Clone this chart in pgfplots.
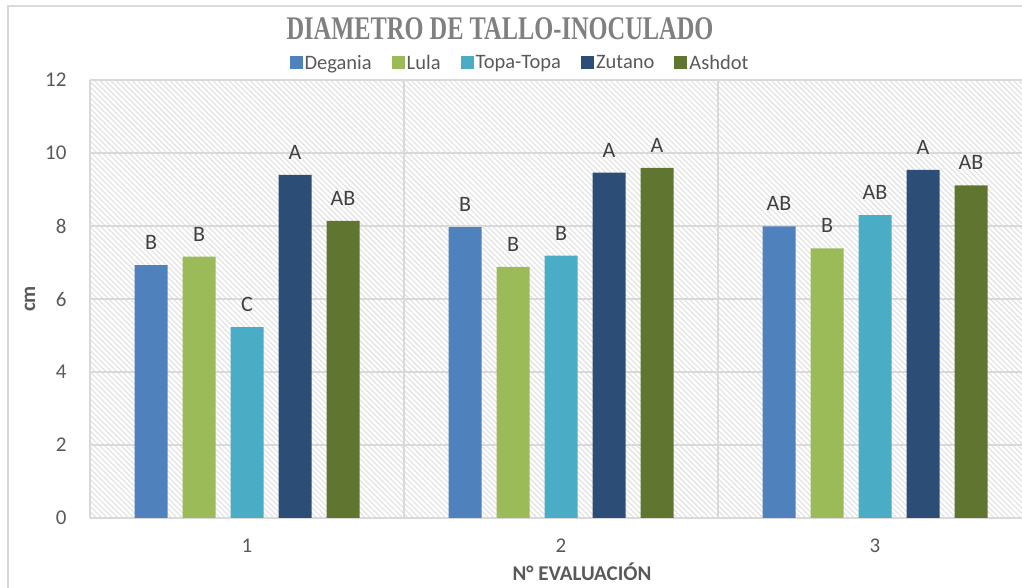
\documentclass[border=0pt]{standalone}
\usepackage{fontspec}
\setmainfont{Carlito}
\newfontfamily\titlefont{Liberation Serif}
\usepackage{pgfplots}
\pgfplotsset{compat=1.18}
\usetikzlibrary{patterns.meta}
\definecolor{cDeg}{HTML}{4F81BD}
\definecolor{cLul}{HTML}{9BBB59}
\definecolor{cTop}{HTML}{4BACC6}
\definecolor{cZut}{HTML}{2C4D75}
\definecolor{cAsh}{HTML}{5F7530}
\definecolor{txt}{HTML}{595959}
\definecolor{lab}{HTML}{404040}
\definecolor{gridc}{HTML}{D9D9D9}
\begin{document}
\begin{tikzpicture}
  % outer chart frame (right and bottom edges are off the picture)
  \draw[gridc, line width=1.5pt] (8pt,-20pt) -- (8pt,582pt) -- (1060pt,582pt);
  \node[font=\titlefont\bfseries\fontsize{33}{36}\selectfont, text=black!50,
        xscale=0.74, transform shape] at (500pt,559pt) {DIAMETRO DE TALLO-INOCULADO};
  \begin{axis}[
    at={(90pt,70pt)}, anchor=south west,
    scale only axis, width=942pt, height=438pt,
    ymin=0, ymax=12, ytick={0,2,...,12},
    xmin=0.5, xmax=3.5, xtick={1,2,3},
    ybar=15pt, bar width=33pt,
    axis line style={draw=none},
    major tick length=0pt,
    ymajorgrids,
    grid style={draw=gridc, line width=2pt},
    extra x ticks={0.5,1.5,2.5},
    extra x tick labels={},
    extra x tick style={grid=major, major grid style={draw=gridc, line width=2pt}},
    axis background/.style={pattern={Lines[angle=-45,distance=3.8pt,line width=1.1pt]},
                            pattern color=black!12},
    /pgf/number format/assume math mode=true,
    tick label style={font=\fontsize{21}{25}\selectfont, text=txt},
    xticklabel style={yshift=-17pt},
    yticklabel style={xshift=-20pt},
    ylabel={cm}, xlabel={N° EVALUACIÓN},
    every axis y label/.style={at={(axis description cs:-0.0637,0.5)}, rotate=90, anchor=center,
                               font=\bfseries\fontsize{21}{25}\selectfont, text=txt},
    every axis x label/.style={at={(axis description cs:0.5223,-0.1233)}, anchor=center,
                               font=\bfseries\fontsize{21}{25}\selectfont, text=txt},
    point meta=explicit symbolic,
    nodes near coords,
    nodes near coords style={font=\fontsize{22}{26}\selectfont, text=lab, yshift=12pt},
    legend columns=5,
    legend style={at={(axis description cs:0.4565,1.039)}, anchor=center,
                  draw=none, fill=none, font=\fontsize{20.5}{24}\selectfont, text=txt,
                  /tikz/every even column/.append style={column sep=18pt}},
    legend image code/.code={\fill[#1, draw=none] (0pt,-6.5pt) rectangle (13pt,6.5pt);},
  ]
    \addplot[fill=cDeg, draw=none] coordinates {(1,6.93) [B] (2,7.97) [B] (3,7.99) [AB]};
    \addplot[fill=cLul, draw=none] coordinates {(1,7.16) [B] (2,6.88) [B] (3,7.39) [B]};
    \addplot[fill=cTop, draw=none] coordinates {(1,5.23) [C] (2,7.19) [B] (3,8.30) [AB]};
    \addplot[fill=cZut, draw=none] coordinates {(1,9.40) [A] (2,9.46) [A] (3,9.54) [A]};
    \addplot[fill=cAsh, draw=none] coordinates {(1,8.14) [AB] (2,9.59) [A] (3,9.11) [AB]};
    \legend{Degania,Lula,Topa-Topa,Zutano,Ashdot}
  \end{axis}
  \pgfresetboundingbox
  \useasboundingbox (0,0) rectangle (1022pt,588pt);
\end{tikzpicture}
\end{document}
